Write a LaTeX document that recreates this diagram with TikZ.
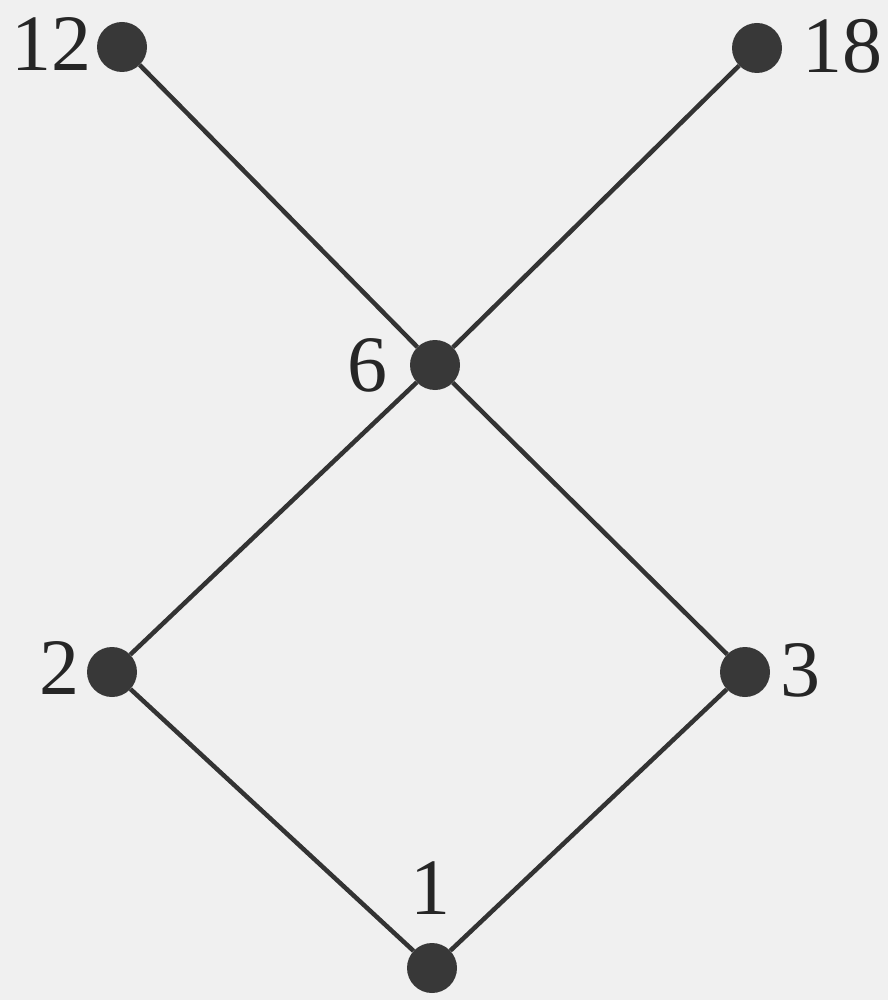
\documentclass[tikz,border=0pt]{standalone}
\usepackage{fontspec}
\setmainfont{Liberation Serif}
\begin{document}
\begin{tikzpicture}[x=1pt,y=-1pt,
  dot/.style={circle,fill=black!78,inner sep=0pt,minimum size=50pt},
  lbl/.style={font=\fontsize{80}{80}\selectfont,text=black!85,inner sep=0pt},
  edge/.style={line width=4.5pt,draw=black!80}]
\fill[black!6] (0,0) rectangle (888,1000);
\useasboundingbox (0,0) rectangle (888,1000);
\node[dot] (n12) at (122,47) {};
\node[dot] (n18) at (757,48) {};
\node[dot] (n6) at (435,365) {};
\node[dot] (n2) at (112,672) {};
\node[dot] (n3) at (745,672) {};
\node[dot] (n1) at (432,968) {};
\node[lbl,anchor=east] (l12) at (92,44) {12};
\node[lbl,anchor=west] (l18) at (802,46) {18};
\node[lbl,anchor=east] (l6) at (388,365) {6};
\node[lbl,anchor=east] (l2) at (80,668) {2};
\node[lbl,anchor=west] (l3) at (780,670) {3};
\node[lbl] (l1) at (430,888) {1};
\draw[edge] (n12) -- (n6) -- (n18);
\draw[edge] (n6) -- (n2) -- (n1) -- (n3) -- (n6);
\end{tikzpicture}
\end{document}
